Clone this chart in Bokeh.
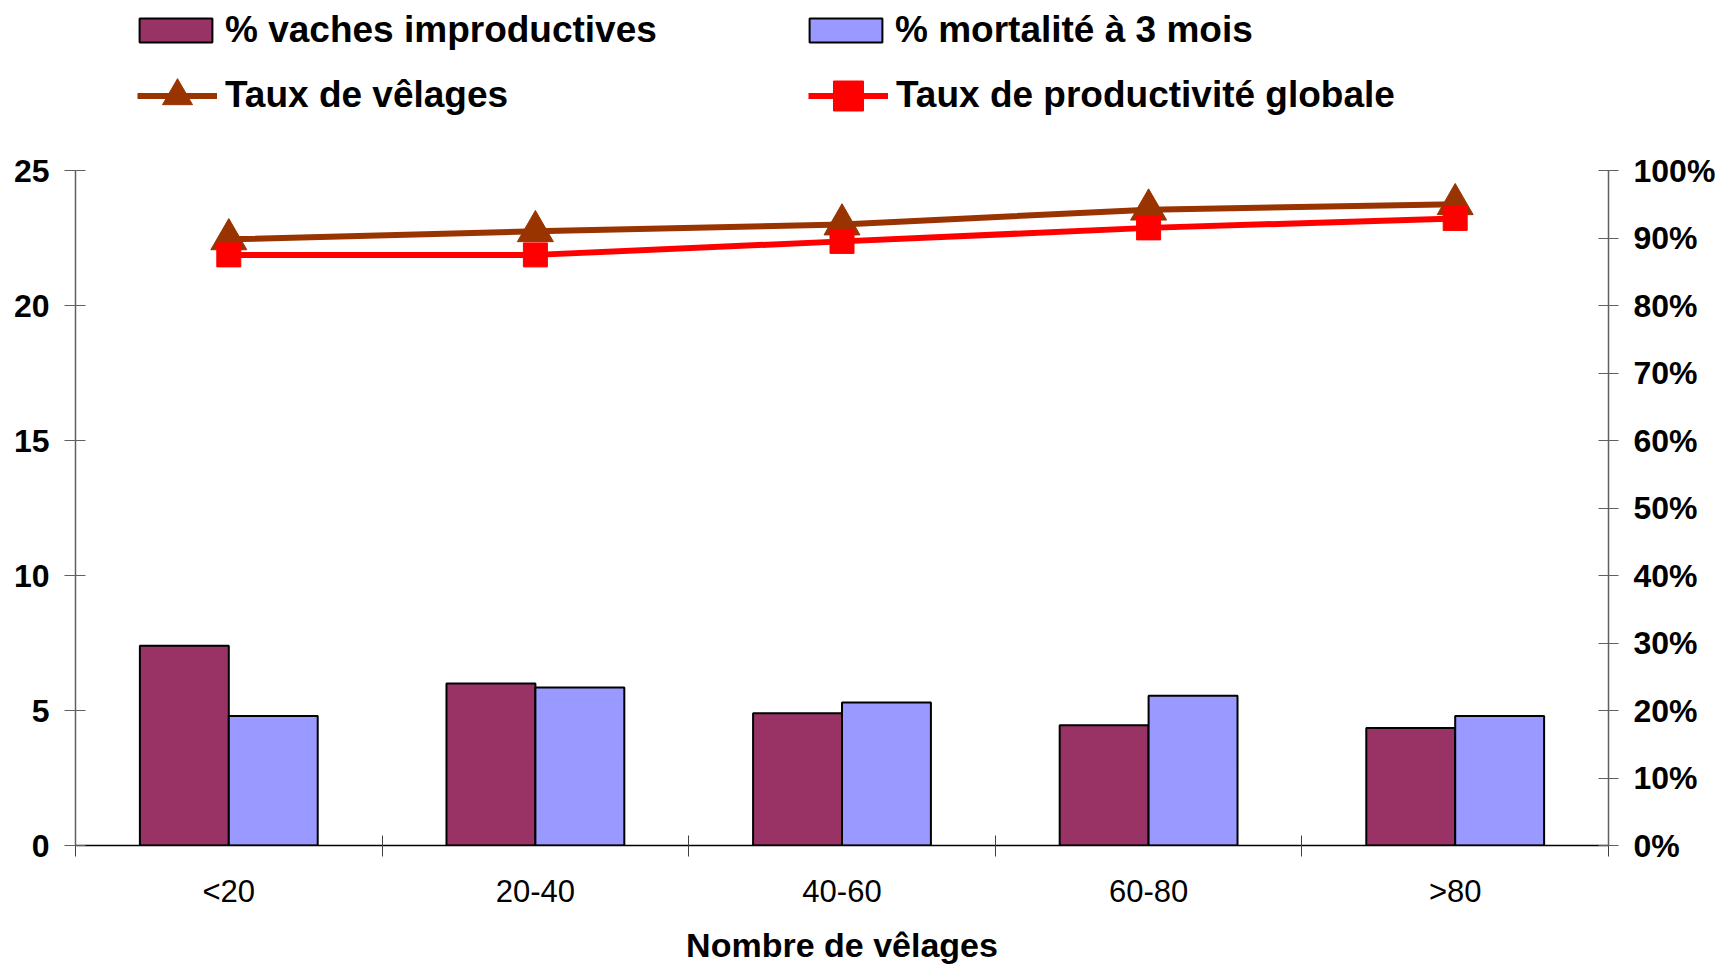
from bokeh.plotting import figure
from bokeh.models import (Range1d, LinearAxis, FixedTicker, NumeralTickFormatter,
                          Legend, LegendItem, ColumnDataSource)
from bokeh.transform import dodge
from bokeh.embed import file_html
from bokeh.resources import INLINE

# ---------------- data ----------------
categories = ["<20", "20-40", "40-60", "60-80", ">80"]
vaches_improductives = [7.4, 6.0, 4.9, 4.45, 4.35]          # left axis
mortalite_3_mois = [4.8, 5.85, 5.3, 5.55, 4.8]               # left axis
taux_velages = [0.898, 0.910, 0.920, 0.942, 0.950]            # right axis (fraction)
taux_productivite = [0.875, 0.875, 0.895, 0.915, 0.929]       # right axis (fraction)
left_ticks = [0, 5, 10, 15, 20, 25]
right_ticks = [0.0, 0.1, 0.2, 0.3, 0.4, 0.5, 0.6, 0.7, 0.8, 0.9, 1.0]

FONT = "Liberation Sans"
MAROON = "#993366"
LAVENDER = "#9999FF"
BROWN = "#993300"
RED = "#FF0000"

# layout (pixels)
W, H = 1719, 966
FR_LEFT, FR_RIGHT, AX_TOP, FR_BOTTOM = 75, 1608, 170, 845
# the frame reaches the top of the canvas so the legend (clipped to the frame) shows;
# the axes are bounded to their real range
stretch = FR_BOTTOM / (FR_BOTTOM - AX_TOP)

n = len(categories)
xc = [i + 0.5 for i in range(n)]
src = ColumnDataSource(dict(x=xc, vi=vaches_improductives, mo=mortalite_3_mois,
                            tv=taux_velages, tp=taux_productivite))

p = figure(width=W, height=H, output_backend="svg", toolbar_location=None,
           x_range=Range1d(0, n),
           y_range=Range1d(left_ticks[0], left_ticks[-1] * stretch),
           min_border_left=FR_LEFT, min_border_right=W - FR_RIGHT, min_border_top=0,
           min_border_bottom=H - FR_BOTTOM)
p.extra_y_ranges = {"pct": Range1d(right_ticks[0], right_ticks[-1] * stretch)}
p.outline_line_color = None
p.xgrid.visible = False
p.ygrid.visible = False
p.background_fill_color = "white"
p.border_fill_color = "white"

bw = 0.29
r_vi = p.vbar(x=dodge("x", -bw / 2, range=p.x_range), top="vi", width=bw, bottom=0,
              source=src, fill_color=MAROON, line_color="black", line_width=2)
r_mo = p.vbar(x=dodge("x", bw / 2, range=p.x_range), top="mo", width=bw, bottom=0,
              source=src, fill_color=LAVENDER, line_color="black", line_width=2)

r_tv_l = p.line("x", "tv", source=src, y_range_name="pct", line_color=BROWN, line_width=6)
r_tv_m = p.scatter("x", "tv", source=src, y_range_name="pct", marker="triangle",
                   size=36, fill_color=BROWN, line_color=BROWN)
r_tp_l = p.line("x", "tp", source=src, y_range_name="pct", line_color=RED, line_width=6)
r_tp_m = p.scatter("x", "tp", source=src, y_range_name="pct", marker="square",
                   size=24, fill_color=RED, line_color=RED)

# ---------------- axes ----------------
xa = p.xaxis[0]
xa.ticker = FixedTicker(ticks=xc, minor_ticks=list(range(n + 1)))
xa.major_label_overrides = {x: c for x, c in zip(xc, categories)}
xa.major_tick_in = 0
xa.major_tick_out = 0
xa.minor_tick_in = 10
xa.minor_tick_out = 11
xa.minor_tick_line_color = "#404040"
xa.axis_line_color = "black"
xa.axis_line_width = 1.5
xa.major_label_text_font = FONT
xa.major_label_text_font_size = "31px"
xa.major_label_text_color = "black"
xa.major_label_standoff = 17
xa.axis_label = "Nombre de vêlages"
xa.axis_label_text_font = FONT
xa.axis_label_text_font_style = "bold"
xa.axis_label_text_font_size = "34px"
xa.axis_label_text_color = "black"
xa.axis_label_standoff = 14

ya = p.yaxis[0]
ya.ticker = FixedTicker(ticks=left_ticks, minor_ticks=[])
ya.bounds = (left_ticks[0], left_ticks[-1])
ya.axis_line_color = "#606060"
ya.axis_line_width = 1.5
ya.major_tick_line_color = "#606060"
ya.major_tick_in = 10
ya.major_tick_out = 11
ya.minor_tick_line_color = None
ya.major_label_text_font = FONT
ya.major_label_text_font_style = "bold"
ya.major_label_text_font_size = "32px"
ya.major_label_text_color = "black"
ya.major_label_standoff = 15

ra = LinearAxis(y_range_name="pct", ticker=FixedTicker(ticks=right_ticks, minor_ticks=[]),
                formatter=NumeralTickFormatter(format="0%"),
                bounds=(right_ticks[0], right_ticks[-1]))
ra.axis_line_color = "#606060"
ra.axis_line_width = 1.5
ra.major_tick_line_color = "#606060"
ra.major_tick_in = 10
ra.major_tick_out = 10
ra.minor_tick_line_color = None
ra.major_label_text_font = FONT
ra.major_label_text_font_style = "bold"
ra.major_label_text_font_size = "32px"
ra.major_label_text_color = "black"
ra.major_label_standoff = 15
p.add_layout(ra, "right")

# ---------------- legends (one per entry, positioned in the top strip) ----------------
def add_legend(label, renderers, glyph_x0, center_y, gw, gh, standoff, box_h):
    lg = Legend(items=[LegendItem(label=label, renderers=renderers)],
                location=(glyph_x0 - FR_LEFT, FR_BOTTOM - (center_y + box_h / 2)),
                glyph_width=gw, glyph_height=gh, label_standoff=standoff,
                label_text_font=FONT, label_text_font_style="bold",
                label_text_font_size="37px", label_text_color="black",
                padding=0, margin=0, spacing=0, border_line_color=None,
                background_fill_alpha=0)
    p.add_layout(lg, "center")


add_legend("% vaches improductives", [r_vi], 130, 30, 91, 30, 4, 41)
add_legend("% mortalité à 3 mois", [r_mo], 800, 30, 91, 30, 4, 41)
add_legend("Taux de vêlages", [r_tv_l, r_tv_m], 137, 95, 80, 75, 8, 75)
add_legend("Taux de productivité globale", [r_tp_l, r_tp_m], 808, 95, 80, 75, 8, 75)

open("out.html", "w").write(file_html(p, INLINE))
